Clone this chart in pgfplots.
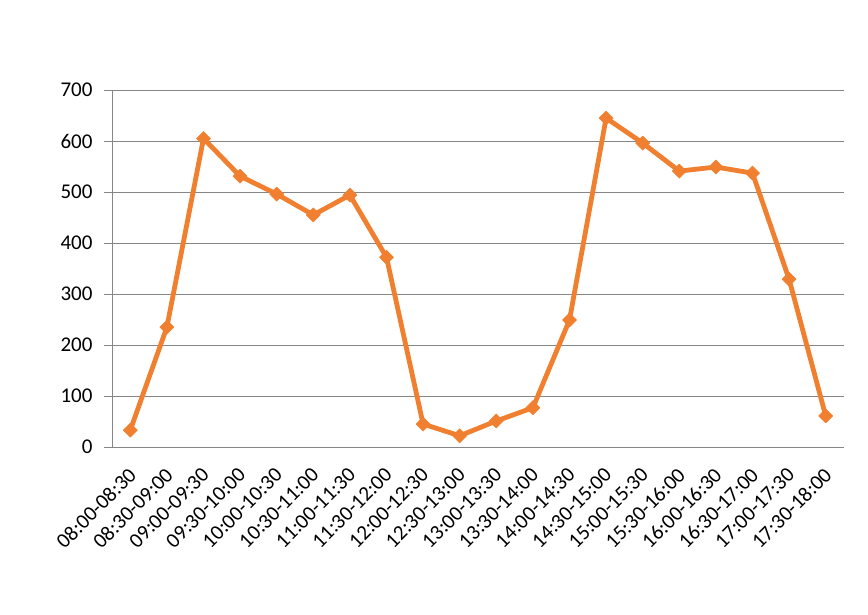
\documentclass[border=0pt]{standalone}
\usepackage{fontspec}
\setmainfont{Carlito}
\usepackage{pgfplots}
\pgfplotsset{compat=1.18}
\definecolor{lineorange}{HTML}{F0802F}
\definecolor{gridgray}{HTML}{868686}
\begin{document}
\begin{tikzpicture}[x=1pt,y=1pt]
  \useasboundingbox (0,0) rectangle (868,614);
  \begin{axis}[
      at={(112pt,167pt)}, anchor=south west,
      scale only axis,
      width=732pt, height=357pt,
      xmin=-0.5, xmax=19.5,
      ymin=0, ymax=700,
      ytick={0,100,...,700},
      xtick={0,...,19},
      xticklabels={08:00-08:30,08:30-09:00,09:00-09:30,09:30-10:00,10:00-10:30,10:30-11:00,11:00-11:30,11:30-12:00,12:00-12:30,12:30-13:00,13:00-13:30,13:30-14:00,14:00-14:30,14:30-15:00,15:00-15:30,15:30-16:00,16:00-16:30,16:30-17:00,17:00-17:30,17:30-18:00},
      x tick label style={yshift=-10pt, xshift=-3pt, rotate=45, anchor=north east, inner sep=1pt},
      y tick label style={xshift=-8pt},
      tick label style={font=\fontsize{21}{25}\selectfont, text=black},
      /pgf/number format/assume math mode=true,
      axis x line*=bottom, axis y line*=left,
      axis line style={gridgray, line width=1pt},
      x axis line style={-}, y axis line style={-},
      ymajorgrids, major grid style={gridgray, line width=1pt},
      ytick style={gridgray, line width=1pt},
      xtick style={draw=none},
      tick align=outside, major tick length=8pt,
      clip=false,
    ]
    \addplot[lineorange, line width=4.8pt, line join=round,
      mark=square*, mark size=5pt, mark options={rotate=45, fill=lineorange, draw=lineorange, line width=0.5pt}]
      coordinates {
        (0,33) (1,235) (2,605) (3,531) (4,496) (5,455) (6,494) (7,372)
        (8,45) (9,22) (10,51) (11,77) (12,249) (13,645) (14,596) (15,541)
        (16,549) (17,537) (18,329) (19,61)
      };
  \end{axis}
\end{tikzpicture}
\end{document}
